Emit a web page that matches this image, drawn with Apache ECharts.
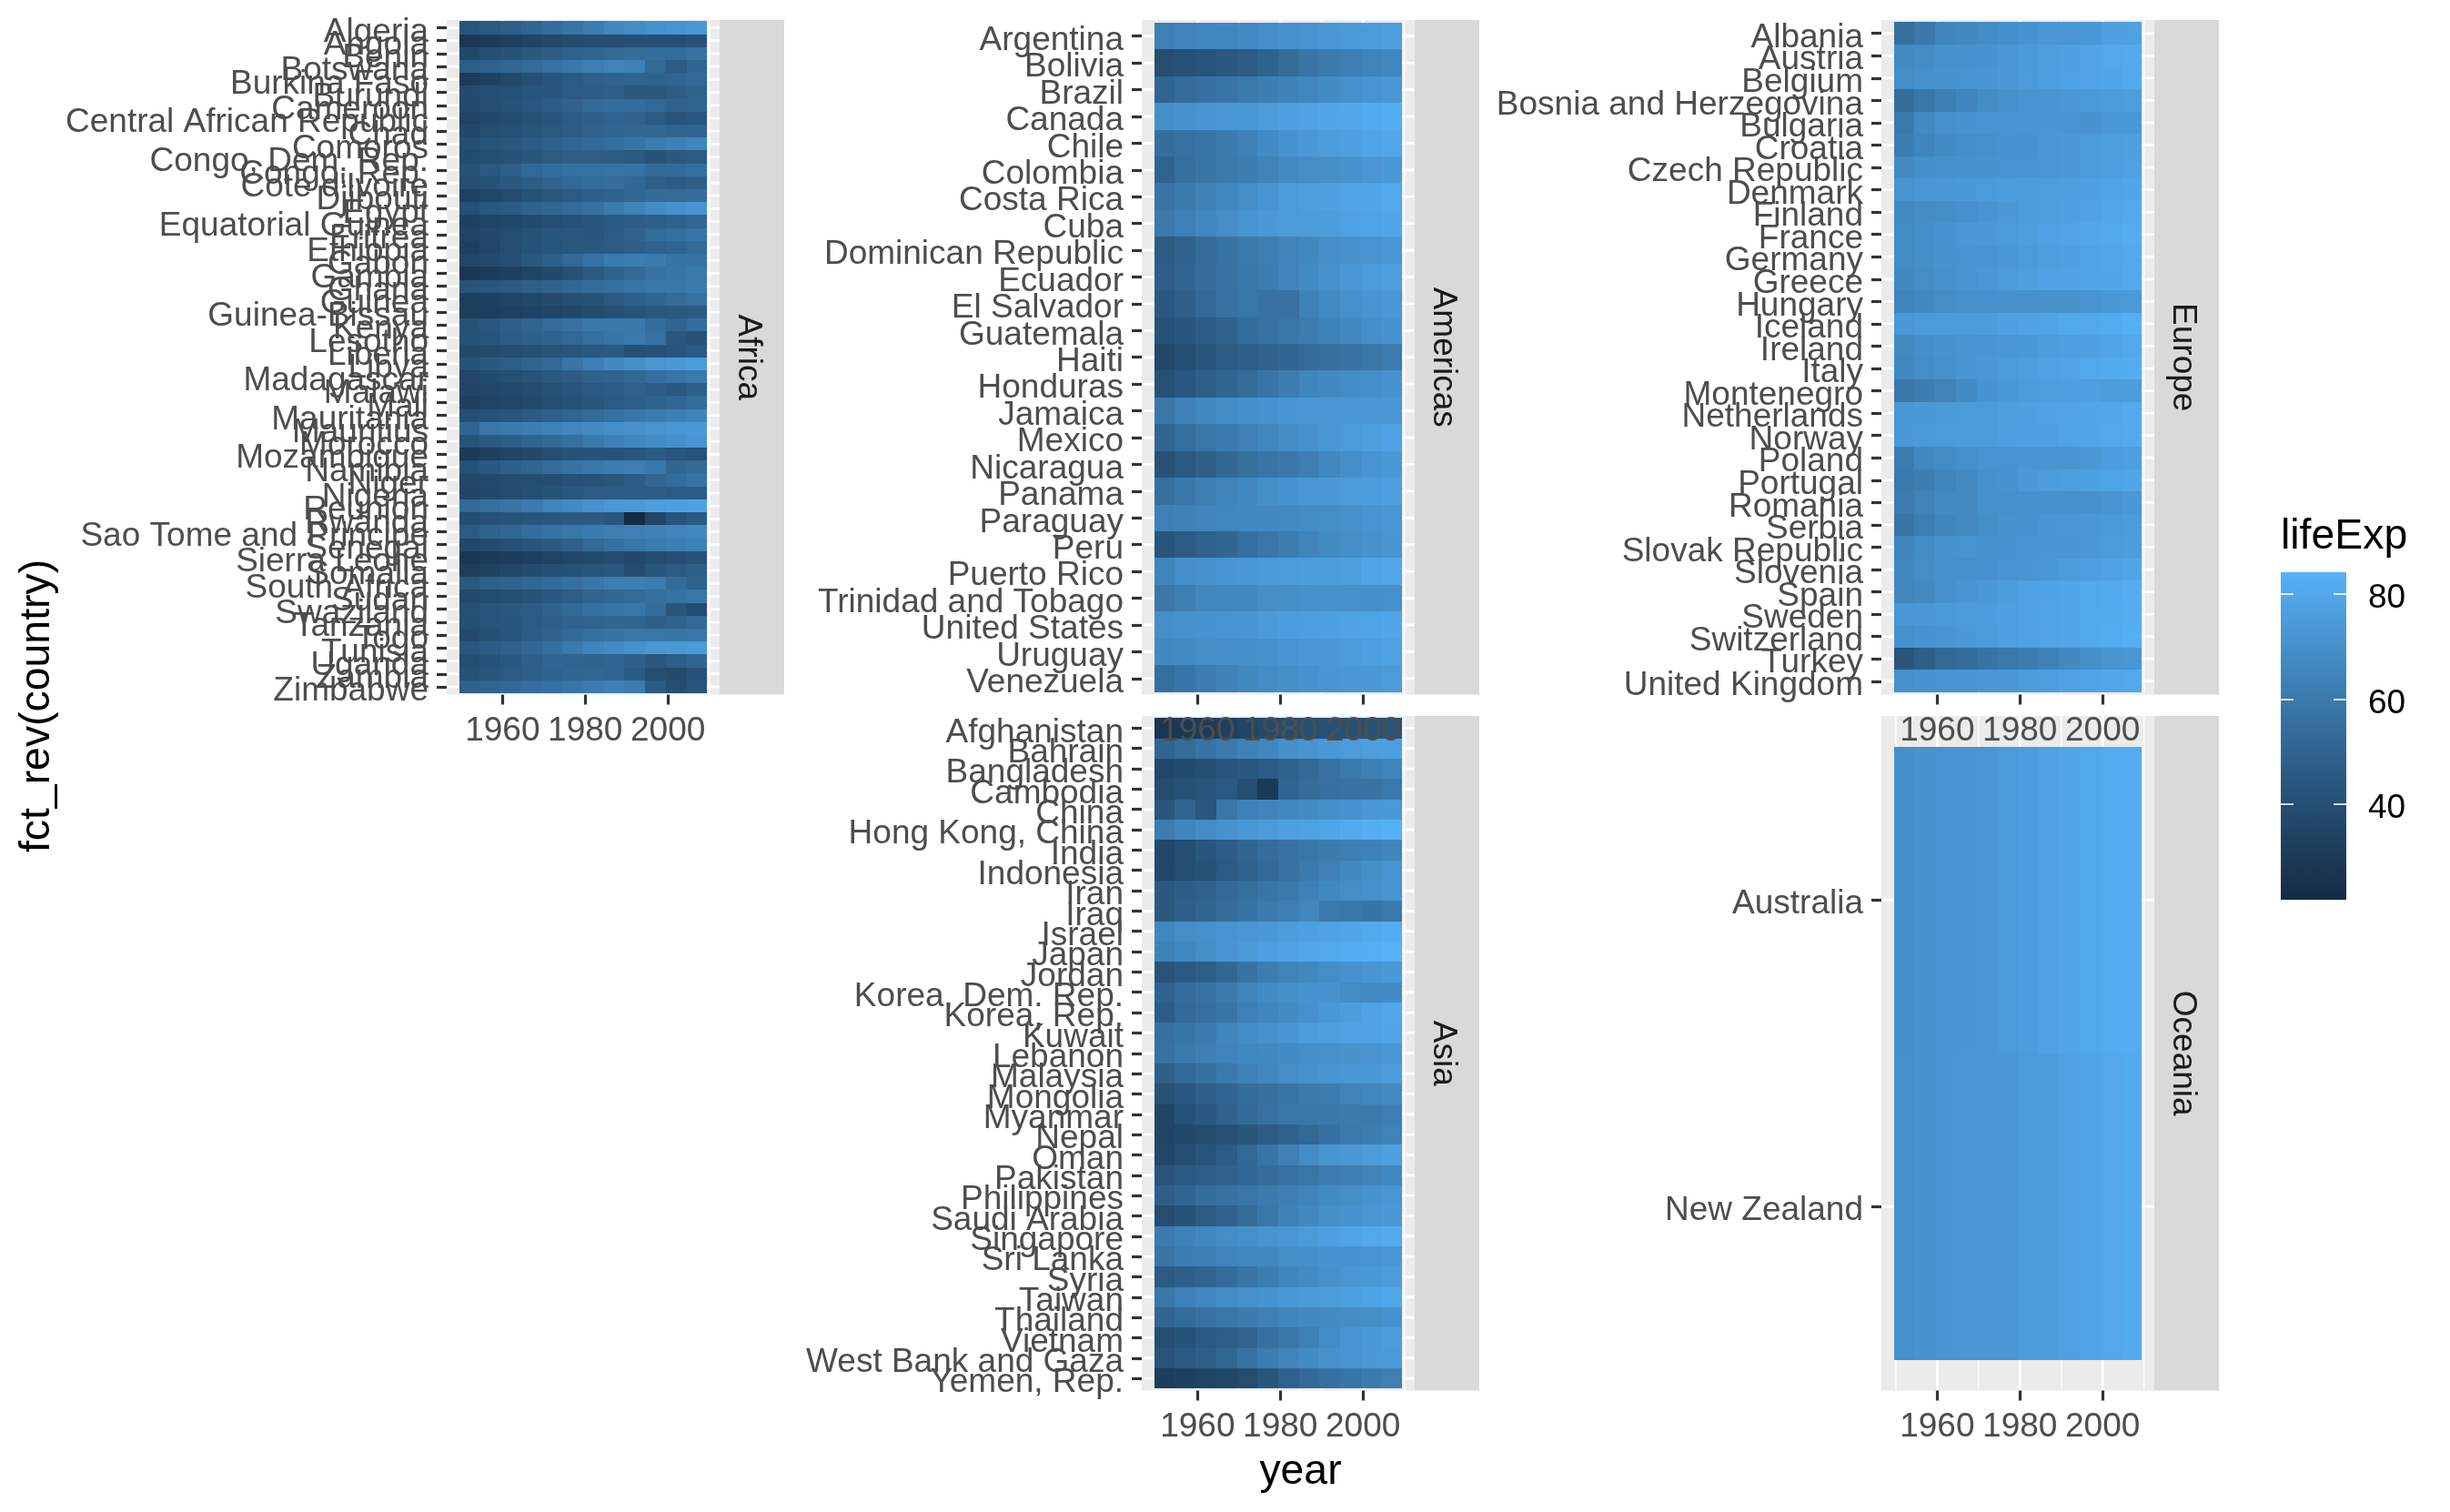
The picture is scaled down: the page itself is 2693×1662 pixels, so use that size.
<!DOCTYPE html>
<html><head><meta charset="utf-8"><title>lifeExp</title>
<style>html,body{margin:0;padding:0;background:#fff}#c{width:2693px;height:1662px}</style>
<script src="https://cdn.jsdelivr.net/npm/echarts@6/dist/echarts.min.js"></script></head>
<body><div id="c"></div>
<script>
const years=[1952,1957,1962,1967,1972,1977,1982,1987,1992,1997,2002,2007];
const xMajorTicks=[1960,1980,2000];
const xMinorLines=[1950,1970,1990,2010];
const legendTicks=[40,60,80];

const africaCountries=["Algeria","Angola","Benin","Botswana","Burkina Faso","Burundi","Cameroon","Central African Republic","Chad","Comoros","Congo, Dem. Rep.","Congo, Rep.","Cote d'Ivoire","Djibouti","Egypt","Equatorial Guinea","Eritrea","Ethiopia","Gabon","Gambia","Ghana","Guinea","Guinea-Bissau","Kenya","Lesotho","Liberia","Libya","Madagascar","Malawi","Mali","Mauritania","Mauritius","Morocco","Mozambique","Namibia","Niger","Nigeria","Reunion","Rwanda","Sao Tome and Principe","Senegal","Sierra Leone","Somalia","South Africa","Sudan","Swaziland","Tanzania","Togo","Tunisia","Uganda","Zambia","Zimbabwe"];
const africaLifeExp=[
[43.1,45.7,48.3,51.4,54.5,58.0,61.4,65.8,67.7,69.2,71.0,72.3],
[30.0,32.0,34.0,36.0,37.9,39.5,39.9,39.9,40.6,41.0,41.0,42.7],
[38.2,40.4,42.6,44.9,47.0,49.2,50.9,52.3,53.9,54.8,54.4,56.7],
[47.6,49.6,51.5,53.3,56.0,59.3,61.5,63.6,62.7,52.6,46.6,50.7],
[32.0,34.9,37.8,40.7,43.6,46.1,48.1,49.6,50.3,50.3,50.7,52.3],
[39.0,40.5,42.0,43.5,44.1,45.9,47.5,48.2,44.7,45.3,47.4,49.6],
[38.5,40.4,42.6,44.8,47.0,49.4,53.0,55.0,54.3,52.2,49.9,50.4],
[35.5,37.5,39.5,41.5,43.5,46.8,48.3,50.5,49.4,46.1,43.3,44.7],
[38.1,39.9,41.7,43.6,45.6,47.4,49.5,51.1,51.7,51.6,50.5,50.7],
[40.7,42.5,44.5,46.5,48.9,50.9,52.9,54.9,57.9,60.7,63.0,65.2],
[39.1,40.7,42.1,44.1,46.0,47.8,47.8,47.4,45.5,42.6,45.0,46.5],
[42.1,45.1,48.4,52.0,54.9,55.6,56.7,57.5,56.4,53.0,53.0,55.3],
[40.5,42.5,44.9,47.4,49.8,52.4,54.0,54.7,52.0,48.0,46.8,48.3],
[34.8,37.3,39.7,42.1,44.4,46.5,48.8,50.0,51.6,53.2,53.4,54.8],
[41.9,44.4,47.0,49.3,51.1,53.3,56.0,59.8,63.7,67.2,69.8,71.3],
[34.5,36.0,37.5,39.0,40.5,42.0,43.7,45.7,47.5,48.2,49.3,51.6],
[35.9,38.0,40.2,42.2,44.1,44.5,43.9,46.5,50.0,53.4,55.2,58.0],
[34.1,36.7,40.1,42.1,43.5,44.5,44.9,46.7,48.1,49.4,50.7,52.9],
[37.0,39.0,40.5,44.6,48.7,52.8,56.6,60.2,61.4,60.5,56.8,56.7],
[30.0,32.1,33.9,35.9,38.3,41.8,45.6,49.3,52.6,55.9,58.0,59.4],
[43.1,44.8,46.5,48.1,49.9,51.8,53.7,55.7,57.5,58.6,58.5,60.0],
[33.6,34.6,35.8,37.2,38.8,40.8,42.9,45.6,48.6,51.5,53.7,56.0],
[32.5,33.5,34.5,35.5,36.5,37.5,39.3,41.2,43.3,44.9,45.5,46.4],
[42.3,44.7,47.9,50.7,53.6,56.2,58.8,59.3,59.3,54.4,51.0,54.1],
[42.1,43.9,46.7,48.5,49.8,52.2,55.1,57.2,59.7,55.6,44.6,42.6],
[38.5,39.5,40.5,41.5,42.6,43.8,44.9,46.0,40.8,42.2,43.8,45.7],
[42.7,45.3,47.8,50.2,52.8,57.4,62.2,66.2,68.8,71.6,72.7,74.0],
[36.7,38.9,40.8,42.9,44.9,46.9,49.0,49.4,52.2,55.0,57.3,59.4],
[36.3,37.2,38.4,39.5,41.8,43.8,45.6,47.5,49.4,47.5,45.0,48.3],
[33.7,35.3,36.9,38.5,40.0,41.7,43.9,46.4,48.4,49.9,51.8,54.5],
[40.5,42.3,44.2,46.3,48.4,50.9,53.6,56.1,58.3,60.4,62.2,64.2],
[51.0,58.1,60.2,61.6,62.9,64.9,66.7,68.7,69.7,70.7,72.0,72.8],
[42.9,45.4,47.9,50.3,52.9,55.7,59.7,62.7,65.4,67.7,69.6,71.2],
[31.3,33.8,36.2,38.1,40.3,42.5,42.8,42.9,44.3,46.3,44.0,42.1],
[41.7,45.2,48.4,51.2,53.9,56.4,59.0,60.8,62.0,58.9,51.5,52.9],
[37.4,38.6,39.5,40.1,40.5,41.3,42.6,44.6,47.4,51.3,54.5,56.9],
[36.3,37.8,39.4,41.0,42.8,44.5,45.8,46.9,47.5,47.5,46.6,46.9],
[52.7,55.1,57.7,60.5,64.3,67.1,69.9,71.9,73.6,74.8,75.7,76.4],
[40.0,41.5,43.0,44.1,44.6,45.0,46.2,44.0,23.6,36.1,43.4,46.2],
[46.5,48.9,51.9,54.4,56.5,58.5,60.4,61.7,62.7,63.3,64.3,65.5],
[37.3,39.3,41.5,43.6,45.8,48.9,52.4,55.8,58.2,60.2,61.6,63.1],
[30.3,31.6,32.8,34.1,35.4,36.8,38.4,40.0,38.3,39.9,41.0,42.6],
[33.0,35.0,37.0,39.0,41.0,42.0,43.0,44.5,39.7,43.8,45.9,48.2],
[45.0,48.0,50.0,51.9,53.7,55.5,58.2,60.8,61.9,60.2,53.4,49.3],
[38.6,39.6,40.9,42.9,45.1,47.8,50.3,51.7,53.6,55.4,56.4,58.6],
[41.4,43.4,45.0,46.6,49.6,52.5,55.6,57.7,58.5,54.3,43.9,39.6],
[41.2,43.0,44.2,45.8,47.6,49.9,50.6,51.5,50.4,48.5,49.7,52.5],
[38.6,41.2,43.9,46.8,49.8,52.9,55.5,56.9,58.1,58.4,57.6,58.4],
[44.6,47.1,49.6,52.1,55.6,59.8,64.0,66.9,70.0,72.0,73.0,73.9],
[40.0,42.6,45.3,48.1,51.0,50.4,49.8,51.5,48.8,44.6,47.8,51.5],
[42.0,44.1,46.0,47.8,50.1,51.4,51.8,50.8,46.1,40.2,39.2,42.4],
[48.5,50.5,52.4,54.0,55.6,57.7,60.4,62.4,60.4,46.8,40.0,43.5]];

const americasCountries=["Argentina","Bolivia","Brazil","Canada","Chile","Colombia","Costa Rica","Cuba","Dominican Republic","Ecuador","El Salvador","Guatemala","Haiti","Honduras","Jamaica","Mexico","Nicaragua","Panama","Paraguay","Peru","Puerto Rico","Trinidad and Tobago","United States","Uruguay","Venezuela"];
const americasLifeExp=[
[62.5,64.4,65.1,65.6,67.1,68.5,69.9,70.8,71.9,73.3,74.3,75.3],
[40.4,41.9,43.4,45.0,46.7,50.0,53.9,57.3,60.0,62.1,63.9,65.6],
[50.9,53.3,55.7,57.6,59.5,61.5,63.3,65.2,67.1,69.4,71.0,72.4],
[68.8,70.0,71.3,72.1,72.9,74.2,75.8,76.9,78.0,78.6,79.8,80.7],
[54.7,56.1,57.9,60.5,63.4,67.1,70.6,72.5,74.1,75.8,77.9,78.6],
[50.6,55.1,57.9,60.0,61.6,63.8,66.7,67.8,68.4,70.3,71.7,72.9],
[57.2,60.0,62.8,65.4,67.8,70.8,73.5,74.8,75.7,77.3,78.1,78.8],
[59.4,62.3,65.2,68.3,70.7,72.6,73.7,74.2,74.4,76.2,77.2,78.3],
[45.9,49.8,53.5,56.8,59.6,61.8,63.7,66.0,68.5,70.0,70.8,72.2],
[48.4,51.4,54.6,56.7,58.8,61.3,64.3,67.2,69.6,72.3,74.2,75.0],
[45.3,48.6,52.3,55.9,58.2,56.7,56.6,63.2,66.8,69.5,70.7,71.9],
[42.0,44.1,47.0,50.0,53.7,56.0,58.1,60.8,63.4,66.3,69.0,70.3],
[37.6,40.7,43.6,46.2,48.0,49.9,51.5,53.6,55.1,56.7,58.1,60.9],
[41.9,44.7,48.0,50.9,53.9,57.4,60.9,64.5,66.4,67.7,68.6,70.2],
[58.5,62.6,65.6,67.5,69.0,70.1,71.2,71.8,71.8,72.3,72.0,72.6],
[50.8,55.2,58.3,60.1,62.4,65.0,67.4,69.5,71.5,73.7,74.9,76.2],
[42.3,45.4,48.6,51.9,55.2,57.5,59.3,62.0,65.8,68.4,70.8,72.9],
[55.2,59.2,61.8,64.1,66.2,68.7,70.5,71.5,72.5,73.7,74.7,75.5],
[62.6,63.2,64.4,65.0,65.8,66.4,66.9,67.4,68.2,69.4,70.8,71.8],
[43.9,46.3,49.1,51.4,55.4,58.4,61.4,64.1,66.5,68.4,69.9,71.4],
[64.3,68.5,69.6,71.1,72.2,73.4,73.8,74.6,73.9,74.9,77.8,78.7],
[59.1,61.8,64.9,65.4,65.9,68.3,68.8,69.6,69.9,69.5,69.0,69.8],
[68.4,69.5,70.2,70.8,71.3,73.4,74.7,75.0,76.1,76.8,77.3,78.2],
[66.1,67.0,68.3,68.5,68.7,69.5,70.8,71.9,72.8,74.2,75.3,76.4],
[55.1,57.9,60.8,63.5,65.7,67.5,68.6,70.2,71.2,72.1,72.8,73.7]];

const asiaCountries=["Afghanistan","Bahrain","Bangladesh","Cambodia","China","Hong Kong, China","India","Indonesia","Iran","Iraq","Israel","Japan","Jordan","Korea, Dem. Rep.","Korea, Rep.","Kuwait","Lebanon","Malaysia","Mongolia","Myanmar","Nepal","Oman","Pakistan","Philippines","Saudi Arabia","Singapore","Sri Lanka","Syria","Taiwan","Thailand","Vietnam","West Bank and Gaza","Yemen, Rep."];
const asiaLifeExp=[
[28.8,30.3,32.0,34.0,36.1,38.4,39.9,40.8,41.7,41.8,42.1,43.8],
[50.9,53.8,56.9,59.9,63.3,65.6,69.1,70.8,72.6,73.9,74.8,75.6],
[37.5,39.3,41.2,43.5,45.3,46.9,50.0,52.8,56.0,59.4,62.0,64.1],
[39.4,41.4,43.4,45.4,40.3,31.2,51.0,53.9,55.8,56.5,56.8,59.7],
[44.0,50.5,44.5,58.4,63.1,64.0,65.5,67.3,68.7,70.4,72.0,73.0],
[61.0,64.8,67.7,70.0,72.0,73.6,75.5,76.2,77.6,80.0,81.5,82.2],
[37.4,40.2,43.6,47.2,50.7,54.2,56.6,58.6,60.2,61.8,62.9,64.7],
[37.5,39.9,42.5,46.0,49.2,52.7,56.2,60.1,62.7,66.0,68.6,70.7],
[44.9,47.2,49.3,52.5,55.2,57.7,59.6,63.0,65.7,68.0,69.5,71.0],
[45.3,48.4,51.5,54.5,57.0,60.4,62.0,65.0,59.5,58.8,57.0,59.5],
[65.4,67.8,69.4,70.8,71.6,73.1,74.5,75.6,76.9,78.3,79.7,80.7],
[63.0,65.5,68.7,71.4,73.4,75.4,77.1,78.7,79.4,80.7,82.0,82.6],
[43.2,45.7,48.1,51.6,56.5,61.1,63.7,65.9,68.0,69.8,71.3,72.5],
[50.1,54.1,56.7,59.9,64.0,67.2,69.1,70.6,70.0,67.7,66.7,67.3],
[47.5,52.7,55.3,57.7,62.6,64.8,67.1,69.8,72.2,74.6,77.0,78.6],
[55.6,58.0,60.5,64.6,67.7,69.3,71.3,74.2,75.2,76.2,76.9,77.6],
[55.9,59.5,62.1,63.9,65.4,66.1,67.0,67.9,69.3,70.3,71.0,72.0],
[48.5,52.1,55.7,59.4,63.0,65.3,68.0,69.5,70.7,71.9,73.0,74.2],
[42.2,45.2,48.3,51.3,53.8,55.5,57.5,60.2,61.3,63.6,65.0,66.8],
[36.3,41.9,45.1,49.4,53.1,56.1,58.1,58.3,59.3,60.3,59.9,62.1],
[36.2,37.7,39.4,41.5,44.0,46.7,49.6,52.5,55.7,59.4,61.3,63.8],
[37.6,40.1,43.2,47.0,52.1,57.4,62.7,67.7,71.2,72.5,74.2,75.6],
[43.4,45.6,47.7,49.8,51.9,54.0,56.2,58.2,60.8,61.8,63.6,65.5],
[47.8,51.3,54.8,56.4,58.1,60.1,62.1,64.2,66.5,68.6,70.3,71.7],
[39.9,42.9,45.9,49.9,53.9,58.7,63.0,66.3,68.8,70.5,71.6,72.8],
[60.4,63.2,65.8,67.9,69.5,70.8,71.8,73.6,75.8,77.2,78.8,80.0],
[57.6,61.5,62.2,64.3,65.0,65.9,68.8,69.0,70.4,70.5,70.8,72.4],
[45.9,48.3,50.3,53.7,57.3,61.2,64.6,67.0,69.2,71.5,73.1,74.1],
[58.5,62.4,65.2,67.5,69.4,70.6,72.2,73.4,74.3,75.3,77.0,78.4],
[50.8,53.6,56.1,58.3,60.4,62.5,64.6,66.1,67.3,67.5,68.6,70.6],
[40.4,42.9,45.4,47.8,50.3,55.8,58.8,62.8,67.7,70.7,73.0,74.2],
[43.2,45.7,48.1,51.6,56.5,60.8,64.4,67.0,69.7,71.1,72.4,73.4],
[32.5,34.0,35.2,37.0,39.8,44.2,49.1,52.9,55.6,58.0,60.3,62.7]];

const europeCountries=["Albania","Austria","Belgium","Bosnia and Herzegovina","Bulgaria","Croatia","Czech Republic","Denmark","Finland","France","Germany","Greece","Hungary","Iceland","Ireland","Italy","Montenegro","Netherlands","Norway","Poland","Portugal","Romania","Serbia","Slovak Republic","Slovenia","Spain","Sweden","Switzerland","Turkey","United Kingdom"];
const europeLifeExp=[
[55.2,59.3,64.8,66.2,67.7,68.9,70.4,72.0,71.6,73.0,75.7,76.4],
[66.8,67.5,69.5,70.1,70.6,72.2,73.2,74.9,76.0,77.5,79.0,79.8],
[68.0,69.2,70.3,70.9,71.4,72.8,73.9,75.4,76.5,77.5,78.3,79.4],
[53.8,58.5,61.9,64.8,67.5,69.9,70.7,71.1,72.2,73.2,74.1,74.9],
[59.6,66.6,69.5,70.4,70.9,70.8,71.1,71.3,71.2,70.3,72.1,73.0],
[61.2,64.8,67.1,68.5,69.6,70.6,70.5,71.5,72.5,73.7,74.9,75.7],
[66.9,69.0,69.9,70.4,70.3,70.7,71.0,71.6,72.4,74.0,75.5,76.5],
[70.8,71.8,72.3,73.0,73.5,74.7,74.6,74.8,75.3,76.1,77.2,78.3],
[66.5,67.5,68.8,69.8,70.9,72.5,74.5,74.8,75.7,77.1,78.4,79.3],
[67.4,68.9,70.5,71.5,72.4,73.8,74.9,76.3,77.5,78.6,79.6,80.7],
[67.5,69.1,70.3,70.8,71.0,72.5,73.8,74.8,76.1,77.3,78.7,79.4],
[65.9,67.9,69.5,71.0,72.3,73.7,75.2,76.7,77.0,77.9,78.3,79.5],
[64.0,66.4,68.0,69.5,69.8,70.0,69.4,69.6,69.2,71.0,72.6,73.3],
[72.5,73.5,73.7,73.7,74.5,76.1,77.0,77.2,78.8,79.0,80.5,81.8],
[66.9,68.9,70.3,71.1,71.3,72.0,73.1,74.4,75.5,76.1,77.8,78.9],
[65.9,67.8,69.2,71.1,72.2,73.5,75.0,76.4,77.4,78.8,80.2,80.5],
[59.2,61.4,63.7,67.2,70.6,73.1,74.1,74.9,75.4,75.4,74.0,74.5],
[72.1,73.0,73.2,73.8,73.8,75.2,76.0,76.8,77.4,78.0,78.5,79.8],
[72.7,73.4,73.5,74.1,74.3,75.4,76.0,75.9,77.3,78.3,79.0,80.2],
[61.3,65.8,67.6,69.6,70.8,70.7,71.3,71.0,71.0,72.8,74.7,75.6],
[59.8,61.5,64.4,66.6,69.3,70.4,72.8,74.1,74.9,76.0,77.3,78.1],
[61.0,64.1,66.8,66.8,69.2,69.5,69.7,69.5,69.4,69.7,71.3,72.5],
[58.0,61.7,64.5,66.9,68.7,70.3,70.2,71.2,71.7,72.2,73.2,74.0],
[64.4,67.5,70.3,71.0,70.3,70.5,70.8,71.1,71.4,72.7,73.8,74.7],
[65.6,67.8,69.2,69.2,69.8,71.0,71.1,72.2,73.6,75.1,76.7,77.9],
[64.9,66.7,69.7,71.4,73.1,74.4,76.3,76.9,77.6,78.8,79.8,80.9],
[71.9,72.5,73.4,74.2,74.7,75.4,76.4,77.2,78.2,79.4,80.0,80.9],
[69.6,70.6,71.3,72.8,73.8,75.4,76.2,77.4,78.0,79.4,80.6,81.7],
[43.6,48.1,52.1,54.3,57.0,59.5,61.0,63.1,66.1,68.8,70.8,71.8],
[69.2,70.4,70.8,71.4,72.0,72.8,74.0,75.0,76.4,77.2,78.5,79.4]];

const oceaniaCountries=["Australia","New Zealand"];
const oceaniaLifeExp=[
[69.1,70.3,70.9,71.1,71.9,73.5,74.7,76.3,77.6,78.8,80.4,81.2],
[69.4,70.3,71.2,71.5,71.9,72.2,73.8,74.3,76.3,77.6,79.1,80.2]];

const panelNames=["Africa","Americas","Europe","Asia","Oceania"];
const panelCountries=[africaCountries,americasCountries,europeCountries,asiaCountries,oceaniaCountries];
const panelValues=[africaLifeExp,americasLifeExp,europeLifeExp,asiaLifeExp,oceaniaLifeExp];

/* layout */
const panelBox=[[491,22],[1255,22],[2068,22],[1255,787],[2068,787]];
const PW=300,PH=741.5,STRIP=71;
const XMIN=1946.5,XMAX=2012.5;
const FONT='"Liberation Sans",Arial,sans-serif';
const FS=37,FST=46.4;
const LOW='#132B43',HIGH='#56B1F7',LIMITS=[23.6,82.6],LEG_RANGE=[21.85,84.16];

/* Lab interpolation, as the original gradient */
function hex2lab(h){const c=[1,3,5].map(i=>parseInt(h.substr(i,2),16)/255).map(v=>v>0.04045?Math.pow((v+0.055)/1.055,2.4):v/12.92);
 const X=(0.4124*c[0]+0.3576*c[1]+0.1805*c[2])/0.95047,Y=0.2126*c[0]+0.7152*c[1]+0.0722*c[2],Z=(0.0193*c[0]+0.1192*c[1]+0.9505*c[2])/1.08883;
 const f=t=>t>0.008856?Math.cbrt(t):7.787*t+16/116;return [116*f(Y)-16,500*(f(X)-f(Y)),200*(f(Y)-f(Z))];}
function lab2rgb(l){const y=(l[0]+16)/116,x=l[1]/500+y,z=y-l[2]/200,g=t=>t*t*t>0.008856?t*t*t:(t-16/116)/7.787;
 const X=g(x)*0.95047,Y=g(y),Z=g(z)*1.08883;
 const r=[3.2406*X-1.5372*Y-0.4986*Z,-0.9689*X+1.8758*Y+0.0415*Z,0.0557*X-0.2040*Y+1.0570*Z];
 const s=r.map(v=>{v=Math.max(0,Math.min(1,v));return Math.round(255*(v>0.0031308?1.055*Math.pow(v,1/2.4)-0.055:12.92*v));});
 return 'rgb('+s.join(',')+')';}
const labLow=hex2lab(LOW),labHigh=hex2lab(HIGH);
const ramp=t=>lab2rgb(labLow.map((v,i)=>v+(labHigh[i]-v)*Math.max(0,Math.min(1,t))));
const fillOf=v=>ramp((v-LIMITS[0])/(LIMITS[1]-LIMITS[0]));

const grids=[],xAxes=[],yAxes=[],series=[],graphics=[];
panelNames.forEach((name,p)=>{
 const [L,T]=panelBox[p],names=panelCountries[p],vals=panelValues[p],n=names.length;
 const rows=names.map((_,i)=>i+1);
 const YMIN=0.4,YMAX=n+0.6;
 /* the first and last entries sit on the axis ends and are switched off by showMin/MaxLabel:false,
    so that no real row label is dropped by the axis's end-label overlap rule */
 const yMarks=[YMIN].concat(rows,[YMAX]);
 grids.push({left:L,top:T,width:PW,height:PH,show:true,backgroundColor:'#EBEBEB',borderWidth:0,containLabel:false});
 xAxes.push({type:'value',gridIndex:p,min:XMIN,max:XMAX,position:'bottom',z:10,
  axisLine:{show:false,onZero:false},splitLine:{show:false},minorSplitLine:{show:false},
  axisTick:{show:true,customValues:[XMIN].concat(xMajorTicks,[XMAX]),length:11,lineStyle:{color:'#333333',width:3.2}},
  axisLabel:{show:true,customValues:[XMIN].concat(xMajorTicks,[XMAX]),margin:22,color:'#4D4D4D',fontSize:FS,fontFamily:FONT,formatter:v=>String(v),hideOverlap:false,showMinLabel:false,showMaxLabel:false}});
 yAxes.push({type:'value',gridIndex:p,min:YMIN,max:YMAX,inverse:true,position:'left',z:10,
  axisLine:{show:false,onZero:false},splitLine:{show:false},
  axisTick:{show:true,customValues:yMarks,length:11,lineStyle:{color:'#333333',width:3.2}},
  axisLabel:{show:true,customValues:yMarks,margin:20,color:'#4D4D4D',fontSize:FS,fontFamily:FONT,verticalAlign:'top',lineHeight:10,
   formatter:v=>names[Math.round(v)-1]||'',hideOverlap:false,showMinLabel:false,showMaxLabel:false}});
 /* panel grid lines */
 const lines=[];
 xMinorLines.forEach(v=>lines.push([v,1,1.4,1]));
 xMajorTicks.forEach(v=>lines.push([v,1,2.8,1]));
 rows.forEach(r=>lines.push([1950,r,2.8,0]));
 series.push({type:'custom',name:name+' grid',xAxisIndex:p,yAxisIndex:p,z:1,silent:true,clip:true,encode:{x:0,y:1},data:lines,
  renderItem(params,api){const c=api.coord([api.value(0),api.value(1)]),cs=params.coordSys,w=api.value(2),vert=api.value(3);
   const shape=vert?{x1:c[0],y1:cs.y,x2:c[0],y2:cs.y+cs.height}:{x1:cs.x,y1:c[1],x2:cs.x+cs.width,y2:c[1]};
   return {type:'line',shape,style:{stroke:'#FFFFFF',lineWidth:w}};}});
 /* tiles */
 const cells=[];
 vals.forEach((row,i)=>row.forEach((v,j)=>cells.push([years[j],i+1,v])));
 series.push({type:'custom',name:name,xAxisIndex:p,yAxisIndex:p,z:2,silent:true,encode:{x:0,y:1},data:cells,
  renderItem(params,api){const a=api.coord([api.value(0)-2.5,api.value(1)-0.5]),b=api.coord([api.value(0)+2.5,api.value(1)+0.5]);
   const x0=Math.round(a[0]),y0=Math.round(a[1]),x1=Math.round(b[0]),y1=Math.round(b[1]);
   return {type:'rect',shape:{x:x0,y:y0,width:x1-x0,height:y1-y0},style:{fill:fillOf(api.value(2))}};}});
 /* strip */
 graphics.push({type:'rect',z:1,silent:true,shape:{x:L+PW,y:T,width:STRIP,height:PH},style:{fill:'#D9D9D9'}});
 graphics.push({type:'text',z:5,silent:true,x:L+PW+STRIP/2-4,y:T+PH/2,rotation:-Math.PI/2,
  style:{text:name,fill:'#1A1A1A',font:FS+'px '+FONT,textAlign:'center',textVerticalAlign:'middle'}});
});

/* colour bar */
const lg=panelNames.length;
grids.push({left:2507,top:629,width:72,height:360,show:false,containLabel:false});
xAxes.push({type:'value',gridIndex:lg,min:0,max:1,show:false});
const barTick={show:true,inside:true,customValues:legendTicks,length:14,lineStyle:{color:'#FFFFFF',width:1.6}};
yAxes.push({type:'value',gridIndex:lg,min:LEG_RANGE[0],max:LEG_RANGE[1],position:'left',z:10,axisLine:{show:false,onZero:false},splitLine:{show:false},axisTick:barTick,axisLabel:{show:false}});
yAxes.push({type:'value',gridIndex:lg,min:LEG_RANGE[0],max:LEG_RANGE[1],position:'right',z:10,axisLine:{show:false,onZero:false},splitLine:{show:false},axisTick:barTick,
 axisLabel:{show:true,customValues:legendTicks,margin:24,color:'#000000',fontSize:FS,fontFamily:FONT,verticalAlign:'top',lineHeight:10,formatter:v=>String(v),showMinLabel:true,showMaxLabel:true}});
const stops=[];for(let i=0;i<=24;i++)stops.push({offset:i/24,color:ramp(1-i/24)});
series.push({type:'custom',name:'lifeExp bar',xAxisIndex:lg,yAxisIndex:lg,z:2,silent:true,encode:{x:0,y:1},data:[[0,LEG_RANGE[0],1,LEG_RANGE[1]]],
 renderItem(params,api){const a=api.coord([api.value(0),api.value(3)]),b=api.coord([api.value(2),api.value(1)]);
  return {type:'rect',shape:{x:a[0],y:a[1],width:b[0]-a[0],height:b[1]-a[1]},style:{fill:new echarts.graphic.LinearGradient(0,0,0,1,stops)}};}});

/* titles */
graphics.push({type:'text',z:5,silent:true,x:2507,y:590,style:{text:'lifeExp',fill:'#000',font:FST+'px '+FONT,textAlign:'left',textVerticalAlign:'middle'}});
graphics.push({type:'text',z:5,silent:true,x:1429.5,y:1618,style:{text:'year',fill:'#000',font:FST+'px '+FONT,textAlign:'center',textVerticalAlign:'middle'}});
graphics.push({type:'text',z:5,silent:true,x:41,y:776,rotation:Math.PI/2,style:{text:'fct_rev(country)',fill:'#000',font:FST+'px '+FONT,textAlign:'center',textVerticalAlign:'middle'}});

const chart=echarts.init(document.getElementById('c'),null,{renderer:'canvas',width:2693,height:1662});
chart.setOption({animation:false,backgroundColor:'#FFFFFF',grid:grids,xAxis:xAxes,yAxis:yAxes,series:series,graphic:{elements:graphics},tooltip:{show:false}});
</script></body></html>
